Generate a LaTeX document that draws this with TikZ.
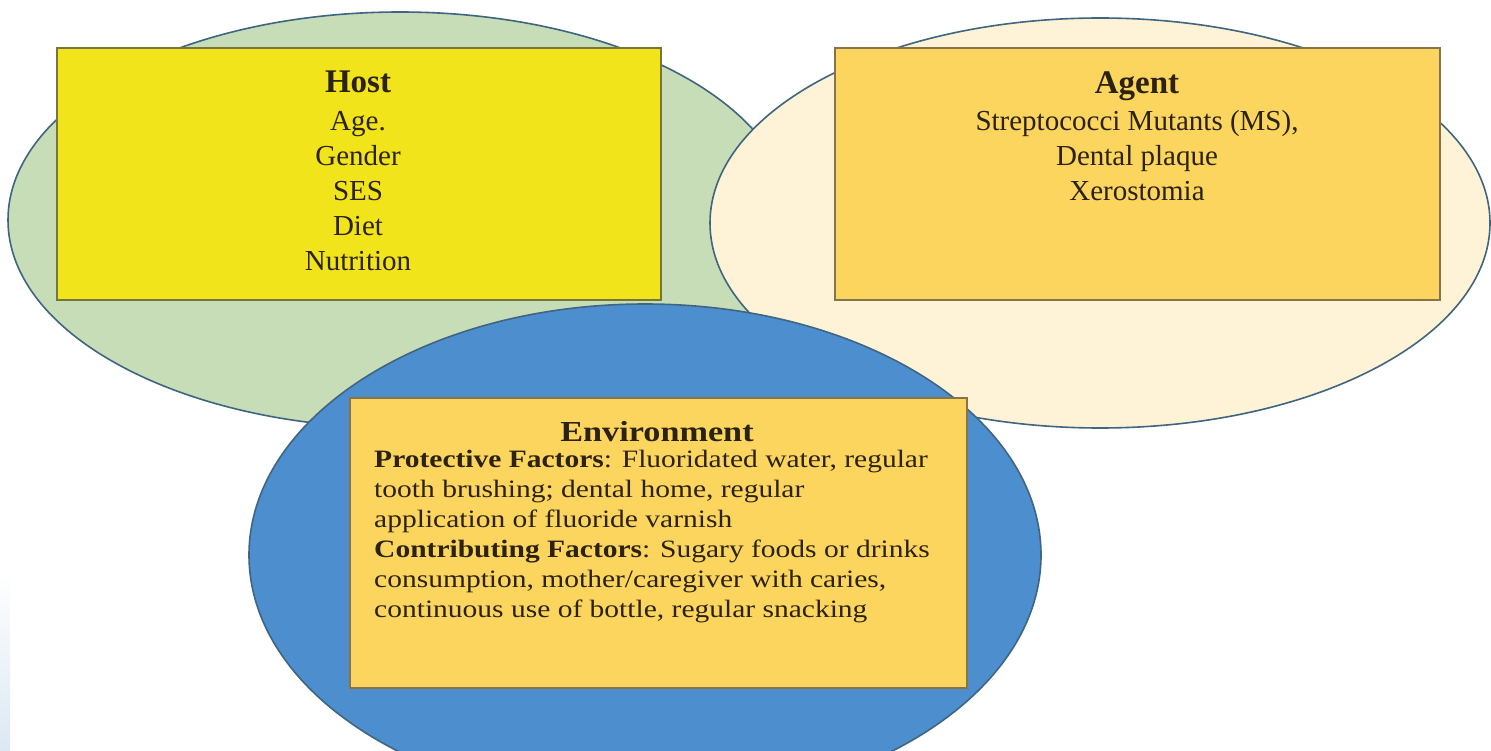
\documentclass[tikz,border=0pt]{standalone}
\usepackage{fontspec}
\setmainfont{Liberation Serif}
\usetikzlibrary{shapes.geometric}
\definecolor{ellline}{HTML}{3F6580}
\definecolor{hostfill}{HTML}{C6DDB8}
\definecolor{agentfill}{HTML}{FEF3D6}
\definecolor{envfill}{HTML}{4D8ECF}
\definecolor{hostbox}{HTML}{F1E41A}
\definecolor{ambox}{HTML}{FCD55F}
\definecolor{hostboxline}{HTML}{77763A}
\definecolor{amboxline}{HTML}{86744A}
\definecolor{txt}{HTML}{2B2211}
\definecolor{strip}{HTML}{DCE8F4}
\newcommand\mytitlefont{\fontsize{33}{35}\selectfont\bfseries}
\begin{document}
\begin{tikzpicture}[x=1pt,y=-1pt,
  ell/.style={ellipse, draw=ellline, line width=1.6pt, inner sep=0pt},
  box/.style={rectangle, line width=2pt, inner sep=0pt},
  ctext/.style={align=center, inner sep=0pt, text=txt, anchor=north,
    font=\fontsize{29}{35}\selectfont},
  etext/.style={align=left, inner sep=0pt, text=txt, anchor=north west,
    font=\fontsize{25}{30}\selectfont, xscale=1.18, transform shape}
]
\clip (0,0) rectangle (1491,751);
\fill[white] (0,0) rectangle (1491,751);
\shade[top color=white, bottom color=strip] (0,570) rectangle (10,751);

% ellipses
\node[ell, fill=hostfill, minimum width=784pt, minimum height=416pt] (hostE) at (400,220) {};
\node[ell, fill=agentfill, minimum width=780pt, minimum height=410pt] (agentE) at (1100,223) {};
\node[ell, fill=envfill, minimum width=792pt, minimum height=502pt] (envE) at (645,555) {};

% boxes
\node[box, fill=hostbox, draw=hostboxline, minimum width=604pt, minimum height=252pt] (hostB) at (359,174) {};
\node[box, fill=ambox, draw=amboxline, minimum width=605pt, minimum height=252pt] (agentB) at (1137.5,174) {};
\node[box, fill=ambox, draw=amboxline, line width=2.4pt, minimum width=617pt, minimum height=290pt] (envB) at (658.5,543) {};

% texts
\node[ctext] (hostT) at (358,71) {{\mytitlefont Host}\\[3pt] Age.\\ Gender\\ SES\\ Diet\\ Nutrition};
\node[ctext] (agentT) at (1137,72) {{\mytitlefont Agent}\\[2pt] Streptococci Mutants (MS),\\ Dental plaque\\ Xerostomia};
\node[inner sep=0pt, text=txt, anchor=north, font=\fontsize{29}{30}\selectfont\bfseries, xscale=1.18, transform shape] (envT) at (657,421) {Environment};
\node[etext] (envL) at (374,450) {\textbf{Protective Factors}: Fluoridated water, regular\\
tooth brushing; dental home, regular\\
application of fluoride varnish\\
\textbf{Contributing Factors}: Sugary foods or drinks\\
consumption, mother/caregiver with caries,\\
continuous use of bottle, regular snacking};
\end{tikzpicture}
\end{document}
